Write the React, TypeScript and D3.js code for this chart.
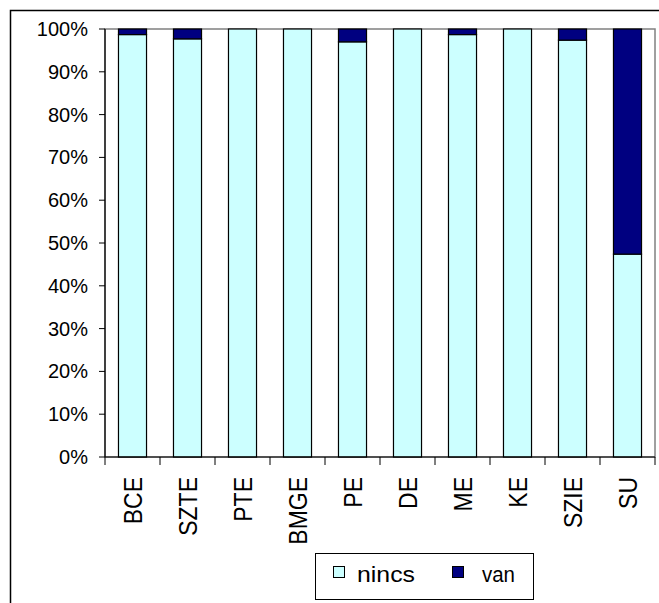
import React from "react";
import * as d3 from "d3";

const categories = ["BCE", "SZTE", "PTE", "BMGE", "PE", "DE", "ME", "KE", "SZIE", "SU"];
const nincs = [98.7, 97.7, 100, 100, 97.0, 100, 98.7, 100, 97.4, 47.4];
const van = [1.3, 2.3, 0, 0, 3.0, 0, 1.3, 0, 2.6, 52.6];
const yTicks = [0, 10, 20, 30, 40, 50, 60, 70, 80, 90, 100];
const seriesNames = ["nincs", "van"];
const colors = ["#CCFFFF", "#000080"];

export default function App() {
  const W = 659, H = 603;
  const left = 105, right = 655, top = 29, bottom = 457;
  const x = d3.scaleBand<string>().domain(categories).range([left, right]).paddingInner(0.49).paddingOuter(0.245);
  const y = d3.scaleLinear().domain([0, 100]).range([bottom, top]);
  const step = (right - left) / categories.length;
  const font = "'Liberation Sans', Arial, sans-serif";
  const stacked = categories.map((c, i) => {
    const total = nincs[i] + van[i];
    const a = (nincs[i] / total) * 100;
    return { c, segs: [[0, a], [a, 100]] };
  });
  const legendSquares = [333, 452];
  const legendText = [357, 482];
  const legendLen = [58, 33];
  return (
    <svg width={W} height={H} style={{ position: "absolute", left: 0, top: 0 }} fontFamily={font}>
      <rect x={0} y={0} width={W} height={H} fill="#fff" />
      <rect x={10.5} y={10.5} width={W + 10} height={H + 10} fill="none" stroke="#000" strokeWidth={1.5} />
      <rect x={left} y={top} width={right - left} height={bottom - top} fill="#fff" stroke="#808080" strokeWidth={1.5} />
      {stacked.map((d) =>
        d.segs.map((s, k) =>
          s[1] - s[0] > 0 ? (
            <rect key={d.c + k} x={x(d.c)!} y={y(s[1])} width={x.bandwidth()} height={y(s[0]) - y(s[1])}
              fill={colors[k]} stroke="#000" strokeWidth={1.2} />
          ) : null
        )
      )}
      <line x1={left} x2={left} y1={top} y2={bottom} stroke="#000" strokeWidth={1.2} />
      <line x1={left} x2={right} y1={bottom} y2={bottom} stroke="#000" strokeWidth={1.2} />
      {yTicks.map((t) => (
        <g key={t}>
          <line x1={left - 6} x2={left} y1={y(t)} y2={y(t)} stroke="#000" />
          <text x={88} y={y(t)} dy="0.35em" textAnchor="end" fontSize={20}>{t}%</text>
        </g>
      ))}
      {categories.map((c, i) => (
        <line key={"t" + c} x1={left + i * step} x2={left + i * step} y1={bottom} y2={bottom + 8} stroke="#000" />
      ))}
      <line x1={right} x2={right} y1={bottom} y2={bottom + 8} stroke="#000" />
      {categories.map((c) => {
        const cx = x(c)! + x.bandwidth() / 2;
        return (
          <text key={"l" + c} transform={`translate(${cx + 9},${477}) rotate(-90) scale(1,1.12)`} textAnchor="end" fontSize={23}>
            {c}
          </text>
        );
      })}
      <rect x={315.5} y={553.5} width={218} height={46} fill="#fff" stroke="#000" />
      {seriesNames.map((n, k) => (
        <g key={n}>
          <rect x={legendSquares[k] + 0.5} y={566.5} width={11} height={11} fill={colors[k]} stroke="#000" />
          <text x={legendText[k]} y={582} fontSize={22} textLength={legendLen[k]} lengthAdjust="spacingAndGlyphs">{n}</text>
        </g>
      ))}
    </svg>
  );
}
